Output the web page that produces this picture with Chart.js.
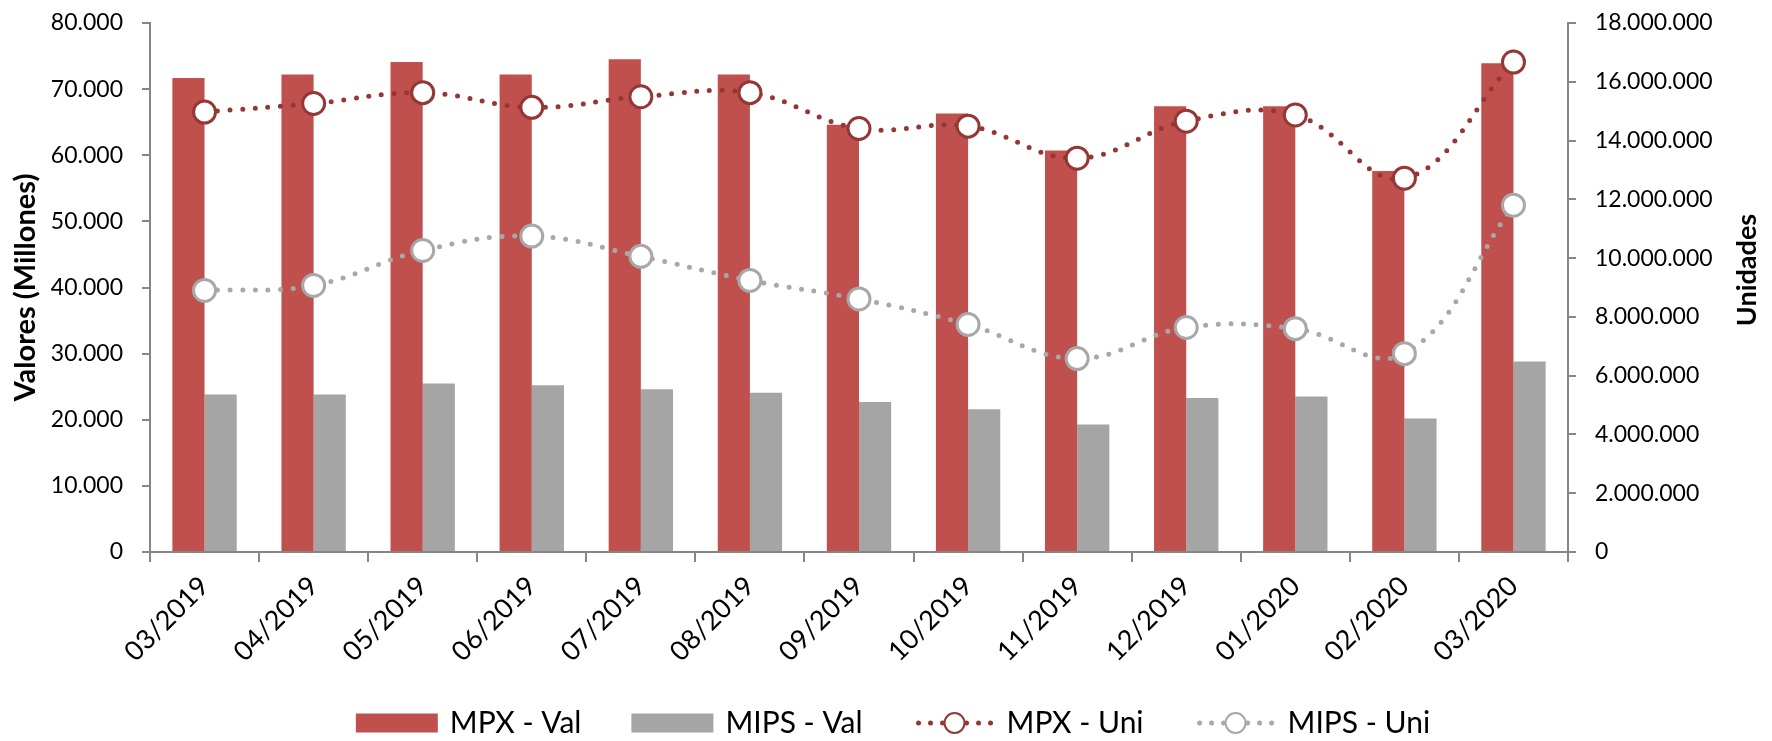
<!DOCTYPE html>
<html><head><meta charset="utf-8">
<script src="https://cdn.jsdelivr.net/npm/chart.js@4.4.1/dist/chart.umd.min.js"></script>
<style>html,body{margin:0;padding:0;background:#fff;}#wrap{width:1772px;height:741px;}</style>
</head><body><div id="wrap"><canvas id="c" width="1772" height="741"></canvas></div>
<script>
const categories = ['03/2019','04/2019','05/2019','06/2019','07/2019','08/2019','09/2019','10/2019','11/2019','12/2019','01/2020','02/2020','03/2020'];
const mpxVal  = [71700, 72200, 74100, 72200, 74500, 72200, 64600, 66300, 60700, 67400, 67400, 57600, 73900];
const mipsVal = [23800, 23800, 25500, 25200, 24600, 24100, 22700, 21600, 19300, 23300, 23500, 20200, 28800];
const mpxUni  = [14970000, 15260000, 15630000, 15130000, 15490000, 15630000, 14410000, 14490000, 13400000, 14660000, 14870000, 12720000, 16670000];
const mipsUni = [8900000, 9070000, 10260000, 10750000, 10060000, 9240000, 8610000, 7740000, 6580000, 7640000, 7600000, 6750000, 11800000];
const seriesNames = ['MPX - Val', 'MIPS - Val', 'MPX - Uni', 'MIPS - Uni'];
const leftTitle = 'Valores (Millones)';
const rightTitle = 'Unidades';

const RED = '#C0504D', GRAY = '#A5A5A5', DRED = '#953735', LGRAY = '#A8A8A8', AXIS = '#868686';
const FONT = 'Lato';
function fmt(v){ return String(Math.round(v)).replace(/\B(?=(\d{3})+(?!\d))/g, '.'); }

const extras = {
  id: 'extras',
  afterDraw(chart) {
    const ctx = chart.ctx;
    ctx.save();
    ctx.translate(1747, 270);
    ctx.rotate(-Math.PI / 2);
    ctx.font = 'bold 27px ' + FONT;
    ctx.fillStyle = '#000';
    ctx.textAlign = 'center';
    ctx.textBaseline = 'middle';
    ctx.fillText(rightTitle, 0, 0);
    ctx.restore();

    ctx.save();
    ctx.font = '30px ' + FONT;
    const symW = 84, tGap = 10, iGap = 50, cy = 723;
    const ds = chart.data.datasets;
    const widths = ds.map(d => ctx.measureText(d.label).width);
    let total = 0;
    widths.forEach((w, i) => { total += symW + tGap + w + (i < widths.length - 1 ? iGap : 0); });
    let x = 893 - total / 2;
    ds.forEach((d, i) => {
      if (d.type === 'bar') {
        ctx.fillStyle = d.backgroundColor;
        ctx.fillRect(x, cy - 9.5, symW - 2, 19);
      } else {
        ctx.save();
        ctx.strokeStyle = d.borderColor;
        ctx.lineWidth = 5;
        ctx.lineCap = 'round';
        ctx.setLineDash([0, 12]);
        ctx.beginPath();
        ctx.moveTo(x + 6, cy); ctx.lineTo(x + symW - 4, cy);
        ctx.stroke();
        ctx.setLineDash([]);
        ctx.beginPath();
        ctx.arc(x + symW / 2, cy, 10, 0, Math.PI * 2);
        ctx.fillStyle = '#fff';
        ctx.fill();
        ctx.lineWidth = 2;
        ctx.strokeStyle = d.pointBorderColor;
        ctx.stroke();
        ctx.restore();
      }
      ctx.fillStyle = '#000';
      ctx.textAlign = 'left';
      ctx.textBaseline = 'middle';
      ctx.fillText(d.label, x + symW + tGap, cy);
      x += symW + tGap + widths[i] + iGap;
    });
    ctx.restore();
  }
};

const lineCommon = {
  type: 'line', yAxisID: 'y1', order: 0, fill: false,
  borderWidth: 5, borderDash: [0, 12.7], borderCapStyle: 'round', tension: 0.4,
  pointRadius: 11, pointBorderWidth: 3, pointBackgroundColor: '#fff', pointHoverRadius: 11
};

function fixV(width) {
  return s => { s.width = width; s.paddingTop = 12; s.paddingBottom = 12; };
}

new Chart(document.getElementById('c'), {
  data: {
    labels: categories,
    datasets: [
      { type: 'bar', label: seriesNames[0], data: mpxVal, backgroundColor: RED, yAxisID: 'y', order: 1,
        categoryPercentage: 0.59, barPercentage: 1.0 },
      { type: 'bar', label: seriesNames[1], data: mipsVal, backgroundColor: GRAY, yAxisID: 'y', order: 1,
        categoryPercentage: 0.59, barPercentage: 1.0 },
      Object.assign({}, lineCommon, { label: seriesNames[2], data: mpxUni, borderColor: DRED, pointBorderColor: DRED }),
      Object.assign({}, lineCommon, { label: seriesNames[3], data: mipsUni, borderColor: LGRAY, pointBorderColor: LGRAY })
    ]
  },
  options: {
    responsive: false, animation: false, devicePixelRatio: 1,
    layout: { padding: { top: 23, left: 0, right: 0, bottom: 0 } },
    plugins: { legend: { display: false }, tooltip: { enabled: false } },
    scales: {
      x: {
        offset: true,
        grid: { display: true, offset: true, drawOnChartArea: false, drawTicks: true, tickLength: 10, color: AXIS, lineWidth: 2 },
        border: { color: AXIS, width: 2 },
        ticks: { autoSkip: false, minRotation: 45, maxRotation: 45, color: '#000', font: { family: FONT, size: 27 }, padding: 8 },
        afterFit: s => { s.height = 189; }
      },
      y: {
        position: 'left', min: 0, max: 80000,
        grid: { drawOnChartArea: false, drawTicks: true, tickLength: 8, color: AXIS, lineWidth: 2 },
        border: { color: AXIS, width: 2 },
        ticks: { stepSize: 10000, callback: v => fmt(v), color: '#000', font: { family: FONT, size: 23 }, padding: 19 },
        title: { display: true, text: leftTitle, color: '#000', font: { family: FONT, size: 29, weight: 'bold' }, padding: { top: 8, bottom: 0 } },
        afterFit: fixV(150)
      },
      y1: {
        position: 'right', min: 0, max: 18000000,
        grid: { drawOnChartArea: false, drawTicks: true, tickLength: 8, color: AXIS, lineWidth: 2 },
        border: { color: AXIS, width: 2 },
        ticks: { stepSize: 2000000, callback: v => fmt(v), color: '#000', font: { family: FONT, size: 23 }, padding: 19 },
        afterFit: fixV(204)
      }
    }
  },
  plugins: [extras]
});
</script></body></html>
